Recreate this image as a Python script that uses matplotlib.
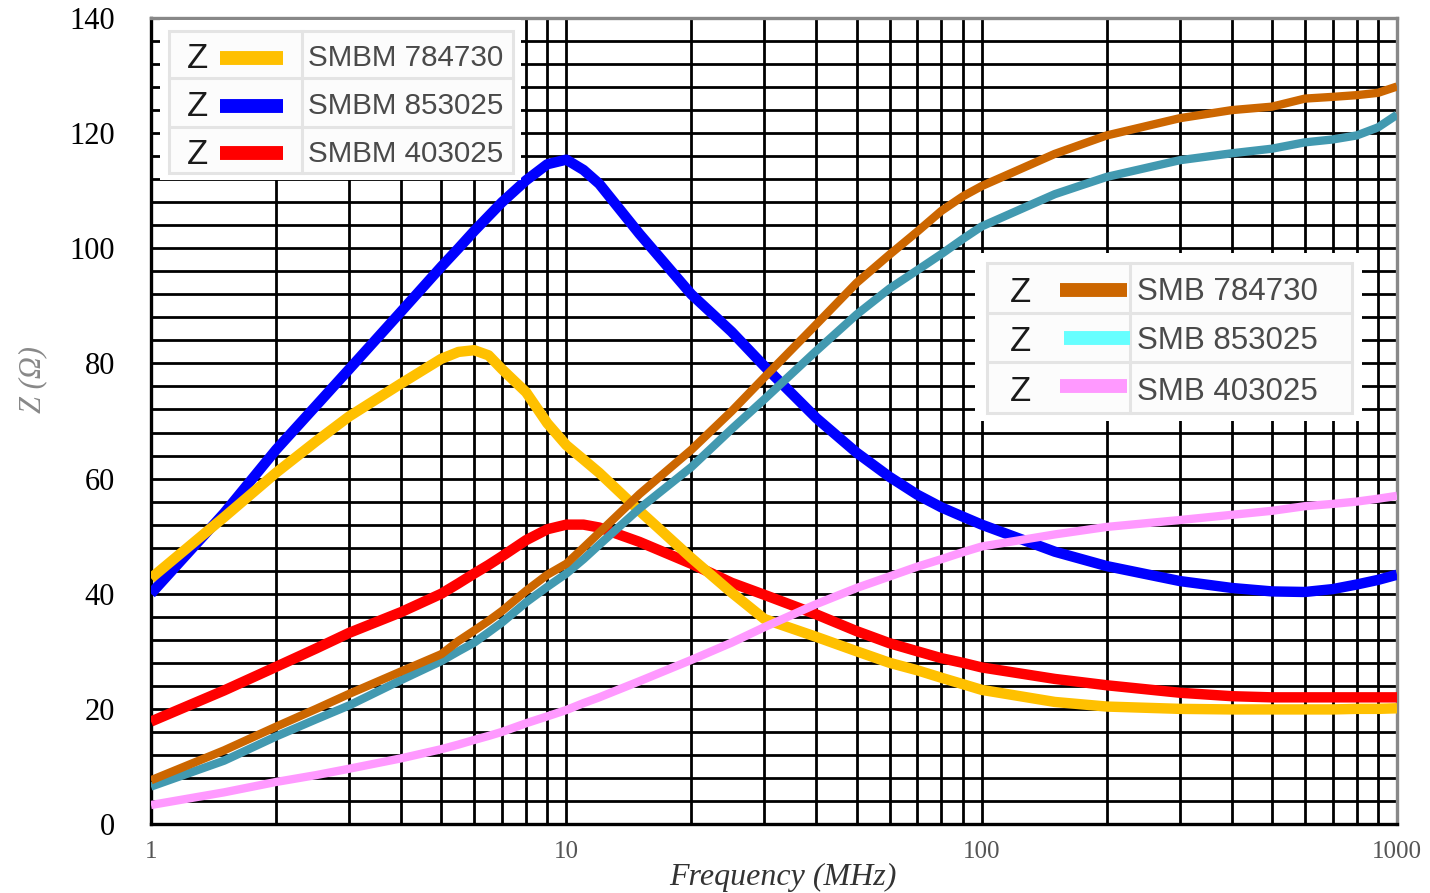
import numpy as np
import matplotlib.pyplot as plt
from matplotlib.patches import Rectangle
from matplotlib.lines import Line2D

W, H = 1430, 893

# frequency points (MHz) shared by all curves
freq = [1, 1.5, 2, 2.5, 3, 4, 5, 5.5, 6, 6.5, 7, 8, 9, 10, 11, 12, 15, 20, 25, 30,
        40, 50, 60, 70, 80, 90, 100, 150, 200, 300, 400, 500, 600, 700, 800, 900, 1000]

# impedance Z (ohm)
smbm_784730 = [42.7, 53.3, 61, 66.5, 70.8, 76.5, 80.8, 82, 82.3, 81.4, 79, 75, 69.6, 65.8, 63.3, 61,
               54.4, 46.2, 40.2, 35.6, 32.5, 30, 28, 26.7, 25.4, 24.3, 23.3, 21.2, 20.4, 20,
               19.9, 19.9, 19.9, 19.9, 20, 20, 20.1]
smbm_853025 = [40, 54, 65, 72.7, 79, 89, 96.8, 100, 103, 105.6, 108, 111.8, 114.6, 115.4, 113.6, 111.2,
               102.5, 92, 85.5, 79.5, 70.5, 64.5, 60.3, 57.2, 55, 53.4, 52, 47.3, 44.8, 42.2,
               41, 40.4, 40.3, 40.8, 41.6, 42.4, 43.3]
smbm_403025 = [17.8, 23.2, 27.3, 30.5, 33.2, 36.8, 40, 41.8, 43.5, 45, 46.5, 49.3, 51.2, 52, 52, 51.5,
               49, 45.2, 41.9, 39.8, 36.4, 33.5, 31.4, 30, 28.8, 28, 27.2, 25.2, 24.1, 22.8,
               22.2, 22, 22, 22, 22, 22, 22]
smb_784730 = [7.6, 12.8, 16.9, 20, 22.6, 26.5, 29.5, 31.8, 33.6, 35.3, 37, 40.5, 43.3, 45.2, 48, 50.6,
              57.3, 65, 71.7, 77.6, 86.8, 94, 98.9, 102.9, 106.5, 109, 110.8, 116.4, 119.6, 122.6,
              124, 124.6, 126, 126.3, 126.6, 127, 128.1]
smb_853025 = [6.5, 11, 15.2, 18.2, 20.6, 25, 28.3, 30, 31.5, 33.3, 35, 38.5, 41.2, 43.5, 46, 48.5,
              54.8, 62, 68.6, 73.8, 82.2, 88.5, 93, 96.2, 99, 101.6, 103.8, 109.4, 112.4, 115.3,
              116.5, 117.3, 118.4, 118.9, 119.6, 121, 123.2]
smb_403025 = [3.3, 5.5, 7.3, 8.5, 9.6, 11.4, 13, 13.8, 14.6, 15.3, 16, 17.5, 18.7, 19.8, 21, 22,
              24.8, 28.5, 31.5, 34.2, 38.2, 41, 43, 44.7, 46, 47.2, 48.2, 50.3, 51.6, 52.8,
              53.7, 54.4, 55.2, 55.6, 56, 56.5, 57]

labels_a = ["SMBM 784730", "SMBM 853025", "SMBM 403025"]
labels_b = ["SMB 784730", "SMB 853025", "SMB 403025"]
col_a = ["#FFC000", "#0000FF", "#FF0000"]
col_b = ["#CC6600", "#4299B0", "#FF99FF"]
col_b_key = ["#CC6600", "#66FFFF", "#FF99FF"]

fig = plt.figure(figsize=(W / 100, H / 100), dpi=100)
ax = fig.add_axes([151 / W, 1 - 824 / H, (1397 - 151) / W, (824 - 18) / H])


def px(x, y):
    return x / W, 1 - y / H


# draw order: blue, red, orange, teal, brown, pink
ax.plot(freq, smbm_853025, color=col_a[1], lw=7.5, solid_capstyle="butt", zorder=3)
ax.plot(freq, smbm_403025, color=col_a[2], lw=7.5, solid_capstyle="butt", zorder=3)
ax.plot(freq, smbm_784730, color=col_a[0], lw=7.5, solid_capstyle="butt", zorder=3)
ax.plot(freq, smb_853025, color=col_b[1], lw=6, solid_capstyle="butt", zorder=3)
ax.plot(freq, smb_784730, color=col_b[0], lw=6, solid_capstyle="butt", zorder=3)
ax.plot(freq, smb_403025, color=col_b[2], lw=6, solid_capstyle="butt", zorder=3)

ax.set_xscale("log")
ax.set_xlim(1, 1000)
ax.set_ylim(0, 140)
ax.set_xticks([1, 10, 100, 1000])
ax.set_xticklabels(["1", "10", "100", "1000"])
ax.set_xticks([m * d for d in (1, 10, 100) for m in range(2, 10)], minor=True)
ax.set_xticklabels([], minor=True)
ax.set_yticks(np.arange(0, 141, 20))
ax.set_yticks(np.arange(0, 141, 4), minor=True)
ax.set_axisbelow(True)
ax.grid(which="both", color="black", lw=2.0)
ax.tick_params(which="both", length=0)
ax.tick_params(axis="y", pad=26, labelsize=22, labelcolor="black")
ax.tick_params(axis="x", pad=12, labelsize=18, labelcolor="#555555")
for lab in ax.get_xticklabels() + ax.get_yticklabels():
    lab.set_family("Liberation Serif")

for s in ("left", "bottom"):
    ax.spines[s].set_color("black")
    ax.spines[s].set_linewidth(2.4)
for s in ("top", "right"):
    ax.spines[s].set_color("#888888")
    ax.spines[s].set_linewidth(2.4)

fig.text(*px(783, 877), "Frequency (MHz)", ha="center", va="center", fontsize=23,
         family="Liberation Serif", style="italic", color="#333333")
fig.text(*px(33, 380), "Z (Ω)", ha="center", va="center", rotation=90, fontsize=22,
         family="Liberation Serif", style="italic", color="#888888")


def key_table(x0, y0, x1, y1, frame, colx, rows, zx, sample, textx, labels, colors, tsize):
    # white cover over the grid
    bx0, by1 = px(x0, y0)
    bx1, by0 = px(x1, y1)
    fig.add_artist(Rectangle((bx0, by0), bx1 - bx0, by1 - by0, transform=fig.transFigure,
                             facecolor="white", edgecolor="none", zorder=4))
    fx0, fy0, fx1, fy1 = frame
    a0, b1 = px(fx0, fy0)
    a1, b0 = px(fx1, fy1)
    fig.add_artist(Rectangle((a0, b0), a1 - a0, b1 - b0, transform=fig.transFigure,
                             facecolor="#fcfcfc", edgecolor="#e4e4e4", lw=2.2, zorder=5))
    fig.add_artist(Line2D([px(colx, 0)[0]] * 2, [b0, b1], transform=fig.transFigure,
                          color="#e4e4e4", lw=2.2, zorder=6))
    edges = [fy0] + rows + [fy1]
    for r in rows:
        fig.add_artist(Line2D([a0, a1], [px(0, r)[1]] * 2, transform=fig.transFigure,
                              color="#e4e4e4", lw=2.2, zorder=6))
    for i in range(3):
        yc = (edges[i] + edges[i + 1]) / 2
        fig.text(*px(zx, yc + 4), "Z", ha="center", va="center", fontsize=25,
                 family="Liberation Sans", color="#1a1a1a", zorder=7)
        sx0, sx1, dy = sample[i]
        fig.add_artist(Line2D([px(sx0, 0)[0], px(sx1, 0)[0]], [px(0, yc + dy)[1]] * 2,
                              transform=fig.transFigure, color=colors[i], lw=10,
                              solid_capstyle="butt", zorder=7))
        fig.text(*px(textx, yc + 4), labels[i], ha="left", va="center", fontsize=tsize,
                 family="Liberation Sans", color="#4a4a4a", zorder=7)


key_table(160, 20, 521, 180, (169, 31, 513, 173), 302, [78, 127], 197,
          [(220, 283, 3)] * 3, 308, labels_a, col_a, 21.3)
key_table(975, 253, 1362, 421, (987, 263, 1352, 413), 1130, [313, 362], 1020,
          [(1060, 1127, 2), (1064, 1130, 0), (1060, 1127, -2)], 1137, labels_b, col_b_key, 22.5)

plt.savefig("out.png", dpi=100)
